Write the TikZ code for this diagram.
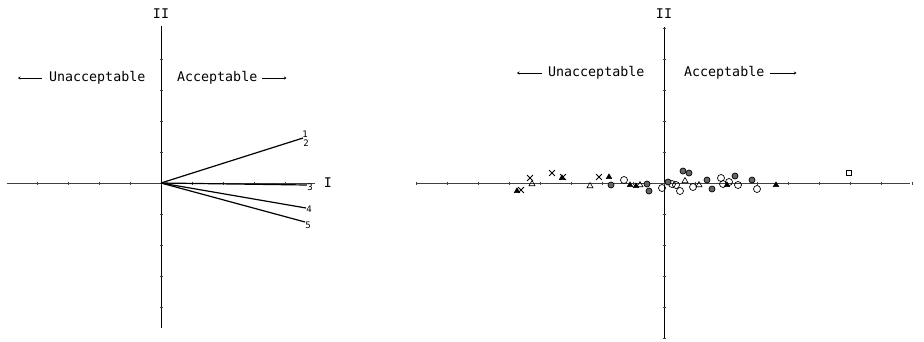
\documentclass[tikz,border=0pt]{standalone}
\usepackage{fontspec}
\newfontfamily\plotfont{DejaVu Sans Mono}
\usetikzlibrary{arrows.meta,shapes.geometric,shapes.misc}

\tikzset{
    axisline/.style={line width=0.6pt,black!75},
    tickmark/.style={line width=0.6pt,black!75},
    vector/.style={line width=1.2pt,black},
    lbl/.style={font=\plotfont\fontsize{13.3}{13.3}\selectfont,inner sep=0pt},
    numlbl/.style={font=\plotfont\fontsize{9}{9}\selectfont,inner sep=0pt},
    sidearrow/.style={line width=0.8pt,-{Stealth[length=2.5pt,width=3pt]}},
    ocirc/.style={circle,draw,line width=0.7pt,inner sep=0pt,minimum size=7pt},
    fcirc/.style={circle,draw,line width=0.7pt,fill=black!60,inner sep=0pt,minimum size=6pt},
    otri/.style={regular polygon,regular polygon sides=3,draw,line width=0.6pt,inner sep=0pt,minimum size=7pt},
    ftri/.style={regular polygon,regular polygon sides=3,draw,fill=black,inner sep=0pt,minimum size=6.5pt},
    xmark/.style={cross out,draw,line width=0.8pt,inner sep=0pt,minimum size=5pt},
}

\begin{document}
\begin{tikzpicture}[x=1pt,y=-1pt]
    \useasboundingbox (0,0) rectangle (924,341);

    % left panel
    \coordinate (lO) at (161,183);
    \draw[axisline] (7,183) -- (315,183);
    \draw[axisline,black] (161,26) -- (161,328);
    \foreach \t in {-4,...,4} {
        \draw[tickmark] (161+31*\t,181.5) -- (161+31*\t,184.5);
    }
    \foreach \t in {-4,...,4} {
        \draw[tickmark] (159.5,183+31*\t) -- (162.5,183+31*\t);
    }
    \node[lbl] (lII) at (161,14) {II};
    \node[lbl] (lI) at (328,183) {I};
    \node[lbl,anchor=west] (lUn) at (49,78) {Unacceptable};
    \node[lbl,anchor=west] (lAc) at (177,78) {Acceptable};
    \draw[sidearrow] ([xshift=-7pt]lUn.west) -- ++(-24,0);
    \draw[sidearrow] ([xshift=5pt]lAc.east) -- ++(24,0);

    \coordinate (v1) at (303,138);
    \coordinate (v3) at (307,185);
    \coordinate (v4) at (306,208);
    \coordinate (v5) at (305,222);
    \draw[vector] (lO) -- (v1);
    \draw[vector] (lO) -- (v3);
    \draw[vector] (lO) -- (v4);
    \draw[vector] (lO) -- (v5);
    \node[numlbl] (n1) at (305,134) {1};
    \node[numlbl] (n2) at (306,143) {2};
    \node[numlbl] (n3) at (310,187) {3};
    \node[numlbl] (n4) at (309,209) {4};
    \node[numlbl] (n5) at (308,225) {5};

    % right panel
    \coordinate (rO) at (664,183);
    \draw[axisline] (417,183) -- (910,183);
    \draw[axisline,black] (664,27) -- (664,338);
    \foreach \t in {-8,...,8} {
        \draw[tickmark] (664+31*\t,181.5) -- (664+31*\t,184.5);
    }
    \foreach \t in {-5,...,5} {
        \draw[tickmark] (662.5,183+31*\t) -- (665.5,183+31*\t);
    }
    \node[lbl] (rII) at (664,14) {II};
    \node[lbl,anchor=west] (rUn) at (548,73) {Unacceptable};
    \node[lbl,anchor=west] (rAc) at (684,73) {Acceptable};
    \draw[sidearrow] ([xshift=-6pt]rUn.west) -- ++(-25,0);
    \draw[sidearrow] ([xshift=6pt]rAc.east) -- ++(26,0);

    \foreach \x/\y [count=\i] in {624/180,662/188,672/184,676/185,680/191,693/187,
                                  721/178,723/184,729/182,738/185,757/189} {
        \node[ocirc] (oc\i) at (\x,\y) {};
    }
    \foreach \x/\y [count=\i] in {611/185,647/184,649/191,683/171,689/173,
                                  707/180,712/189,735/176,752/180,668/182} {
        \node[fcirc] (fc\i) at (\x,\y) {};
    }
    \foreach \x/\y [count=\i] in {532/184,590/186,685/181,699/185,640/185} {
        \node[otri] (ot\i) at (\x,\y) {};
    }
    \foreach \x/\y [count=\i] in {517/191,609/177,562/178,727/185,776/185,630/185,636/186} {
        \node[ftri] (ft\i) at (\x,\y) {};
    }
    \foreach \x/\y [count=\i] in {530/178,552/173,563/177,599/177,521/190} {
        \node[xmark] (xm\i) at (\x,\y) {};
    }
    \node[draw,line width=0.6pt,inner sep=0pt,minimum size=5pt] (sq1) at (849,173) {};
\end{tikzpicture}
\end{document}
